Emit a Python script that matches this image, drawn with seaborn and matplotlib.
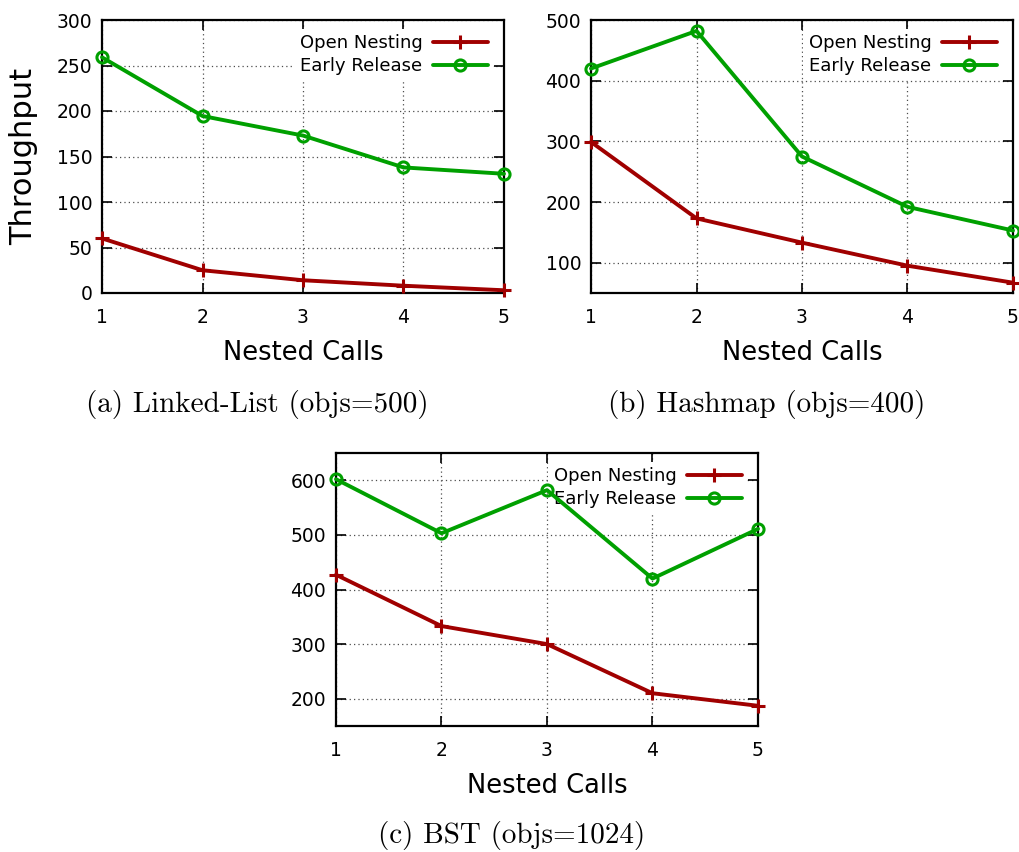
import matplotlib
matplotlib.use("Agg")
import matplotlib.pyplot as plt
import seaborn as sns
import pandas as pd

sns.set_style("white")
plt.rcParams['font.family'] = ['DejaVu Sans']
plt.rcParams['text.color'] = 'black'
plt.rcParams['axes.labelcolor'] = 'black'

# ---------------- data ----------------
nested_calls = [1, 2, 3, 4, 5]

ll_open = [60, 25, 14, 8, 3]
ll_early = [259, 194.5, 173, 138, 131]

hm_open = [299, 173, 133, 95, 67]
hm_early = [420, 482, 275, 192, 153]

bst_open = [427, 333, 300, 210, 187]
bst_early = [602, 503, 582, 420, 511]

series_names = ["Open Nesting", "Early Release"]
captions = ["(a) Linked-List (objs=500)", "(b) Hashmap (objs=400)", "(c) BST (objs=1024)"]
yticks_a = [0, 50, 100, 150, 200, 250, 300]
yticks_b = [100, 200, 300, 400, 500]
yticks_c = [200, 300, 400, 500, 600]
ylims = [(0, 300), (50, 500), (150, 650)]

RED = "#a00000"
GREEN = "#00a000"

W, H = 1020, 852
fig = plt.figure(figsize=(W / 100, H / 100), dpi=100)

rects = [
    [102 / W, 1 - 293 / H, 402 / W, 273 / H],
    [591 / W, 1 - 293 / H, 422 / W, 273 / H],
    [336 / W, 1 - 726 / H, 422 / W, 273 / H],
]
datasets = [(ll_open, ll_early), (hm_open, hm_early), (bst_open, bst_early)]
yticks_all = [yticks_a, yticks_b, yticks_c]

for i, (rect, (op, er)) in enumerate(zip(rects, datasets)):
    ax = fig.add_axes(rect)
    df = pd.DataFrame({
        "Nested Calls": nested_calls * 2,
        "Throughput": op + er,
        "Series": [series_names[0]] * 5 + [series_names[1]] * 5,
    })
    sns.lineplot(data=df[df.Series == series_names[0]], x="Nested Calls", y="Throughput",
                 color=RED, marker="+", markersize=10.5, markeredgewidth=2.2,
                 markeredgecolor=RED,
                 linewidth=2.8, label=series_names[0], ax=ax, zorder=3, clip_on=False)
    sns.lineplot(data=df[df.Series == series_names[1]], x="Nested Calls", y="Throughput",
                 color=GREEN, marker="o", markersize=8, markeredgewidth=2.2,
                 markerfacecolor="none", markeredgecolor=GREEN,
                 linewidth=2.8, label=series_names[1], ax=ax, zorder=3, clip_on=False)
    ax.set_xlim(1, 5)
    ax.set_ylim(*ylims[i])
    ax.set_xticks(nested_calls)
    ax.set_yticks(yticks_all[i])
    ax.set_axisbelow(True)
    ax.grid(True, color="0.3", linestyle=(0, (1, 2.5)), linewidth=0.9)
    for s in ax.spines.values():
        s.set_linewidth(1.6)
        s.set_color("black")
    ax.tick_params(direction="in", length=7, width=1.2, bottom=True, left=True,
                   top=True, right=True, labelsize=13.5, colors="black")
    ax.tick_params(axis="x", pad=11)
    ax.tick_params(axis="y", pad=7)
    ax.set_xlabel("Nested Calls", fontsize=18.5, labelpad=9, color="black")
    if i == 0:
        ax.set_ylabel("Throughput", fontsize=22, color="black")
        ax.yaxis.set_label_coords(-0.16, 0.5)
    else:
        ax.set_ylabel("")
    wpx = rect[2] * W
    hpx = rect[3] * H
    leg = ax.legend(loc="upper right", bbox_to_anchor=(1 - 11 / wpx, 1 - 9 / hpx),
                    borderaxespad=0, borderpad=0.3, markerfirst=False, frameon=True,
                    facecolor="white", edgecolor="none", framealpha=1,
                    handlelength=3.0, handletextpad=0.6, labelspacing=0.25,
                    prop={"size": 13})
    for t in leg.get_texts():
        t.set_color("black")
    leg.set_zorder(2.5)

cap_pos = [(257 / W, 1 - 405 / H), (767 / W, 1 - 405 / H), (512 / W, 1 - 836 / H)]
for (x, y), c in zip(cap_pos, captions):
    fig.text(x, y, c, ha="center", va="center", fontsize=21, family="cmr10", color="black")

fig.savefig("out.png", dpi=100)
